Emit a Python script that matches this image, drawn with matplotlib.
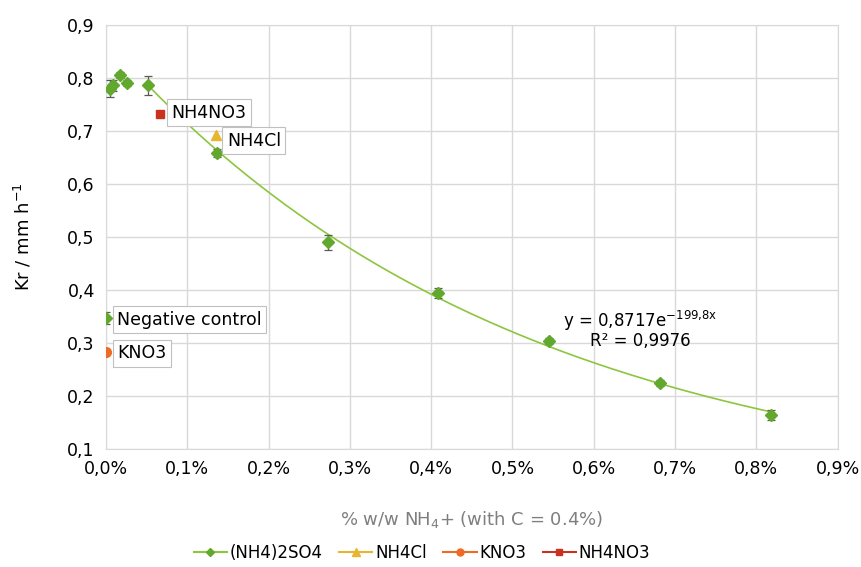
import numpy as np
import matplotlib
matplotlib.use('Agg')
import matplotlib.pyplot as plt
from matplotlib.ticker import FuncFormatter, MultipleLocator

plt.rcParams['font.family'] = ['DejaVu Sans']

# (NH4)2SO4 series (x in % w/w NH4+)
x_sulf = [0.000, 0.005, 0.009, 0.017, 0.026, 0.052, 0.137, 0.273, 0.409, 0.545, 0.682, 0.818]
y_sulf = [0.347, 0.780, 0.786, 0.805, 0.790, 0.786, 0.658, 0.490, 0.394, 0.304, 0.225, 0.164]
err_sulf = [0.012, 0.016, 0.010, 0.006, 0.006, 0.018, 0.008, 0.014, 0.009, 0.006, 0.006, 0.010]

# other salts
x_cl, y_cl = [0.135], [0.692]
x_kno3, y_kno3 = [0.0], [0.283]
x_nh4no3, y_nh4no3 = [0.067], [0.732]

# exponential trendline (from chart): y = a * exp(b * x), x as fraction
fit_a, fit_b = 0.8717, -199.8
fit_r2 = 0.9976

green = '#62a82c'
green_line = '#8cc63f'
yellow = '#e8b530'
orange = '#ed6b25'
red = '#c9321f'

fig = plt.figure(figsize=(8.61, 5.67), dpi=100)
ax = fig.add_axes([0.123, 0.208, 0.850, 0.748])

# trendline over the fitted range
xt = np.linspace(x_sulf[5], x_sulf[-1], 200)
ax.plot(xt, fit_a * np.exp(fit_b * xt / 100), color=green_line, lw=1.2, zorder=2)

ax.errorbar(x_sulf, y_sulf, yerr=err_sulf, fmt='D', color=green, ms=6,
            ecolor='#595959', elinewidth=0.9, capsize=3, capthick=0.9, zorder=3)
ax.plot(x_cl, y_cl, '^', color=yellow, ms=7, zorder=3)
ax.plot(x_kno3, y_kno3, 'o', color=orange, ms=7, zorder=3)
ax.plot(x_nh4no3, y_nh4no3, 's', color=red, ms=6, zorder=3)

# legend handles
ax.plot([], [], '-D', color=green_line, mfc=green, mec=green, ms=4, lw=1.5, label='(NH4)2SO4')
ax.plot([], [], '-^', color=yellow, ms=6, lw=1.5, label='NH4Cl')
ax.plot([], [], '-o', color=orange, ms=5, lw=1.5, label='KNO3')
ax.plot([], [], '-s', color=red, ms=5, lw=1.5, label='NH4NO3')

box = dict(boxstyle='square,pad=0.25', fc='white', ec='#c0c0c0', lw=0.8)
labels = [('NH4NO3', x_nh4no3[0], y_nh4no3[0], (8, 1)),
          ('NH4Cl', x_cl[0], y_cl[0], (8, -4)),
          ('Negative control', x_sulf[0], y_sulf[0], (8, -1)),
          ('KNO3', x_kno3[0], y_kno3[0], (8, -1))]
for txt, x, y, off in labels:
    ax.annotate(txt, (x, y), textcoords='offset points', xytext=off,
                ha='left', va='center', fontsize=12.5, color='black', bbox=box, zorder=5)

ax.text(0.657, 0.342, 'y = 0,8717e$^{\\mathrm{-199{,}8x}}$', ha='center', va='center', fontsize=12)
ax.text(0.657, 0.303, 'R² = 0,9976', ha='center', va='center', fontsize=12)

ax.set_xlim(0, 0.9)
ax.set_ylim(0.1, 0.9)
ax.xaxis.set_major_locator(MultipleLocator(0.1))
ax.yaxis.set_major_locator(MultipleLocator(0.1))
ax.xaxis.set_major_formatter(FuncFormatter(lambda v, p: f'{v:.1f}%'.replace('.', ',')))
ax.yaxis.set_major_formatter(FuncFormatter(lambda v, p: f'{v:.1f}'.replace('.', ',')))
ax.tick_params(length=0, labelsize=12.5, pad=8, colors='black')
ax.grid(color='#d9d9d9', lw=1)
ax.set_axisbelow(True)
for s in ax.spines.values():
    s.set_color('#d9d9d9')

ax.set_xlabel('% w/w NH$_4$+ (with C = 0.4%)', fontsize=13, color='#7f7f7f', labelpad=22)
ax.set_ylabel('Kr / mm h$^{-1}$', fontsize=13, labelpad=24)

fig.legend(loc='lower center', bbox_to_anchor=(0.49, -0.018), ncol=4, frameon=False,
           fontsize=12, handlelength=2.0, handletextpad=0.15, columnspacing=1.0)

fig.savefig('out.png', dpi=100)
